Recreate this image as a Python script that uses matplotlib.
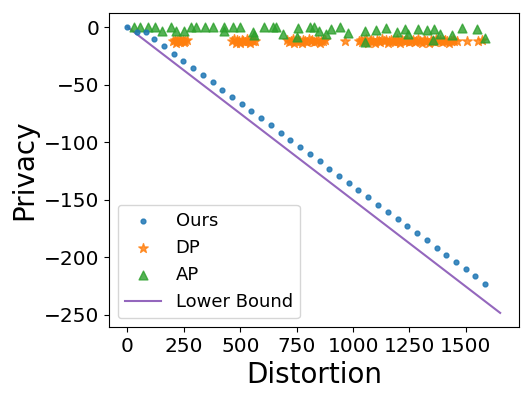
import matplotlib
matplotlib.use("Agg")
import matplotlib.pyplot as plt
from matplotlib.ticker import MultipleLocator

# Ours
ours_x = [0, 44, 80, 118, 161, 204, 247, 290, 334, 377, 420, 463, 506, 549,
          593, 636, 679, 722, 765, 808, 852, 895, 938, 981, 1024, 1067, 1111,
          1154, 1197, 1240, 1283, 1326, 1370, 1413, 1456, 1499, 1542, 1585]
ours_y = [0, -4.5, -4.0, -10.7, -16.8, -23.0, -29.3, -35.5, -41.8, -48.0,
          -54.3, -60.5, -66.8, -73.0, -79.3, -85.5, -91.8, -98.0, -104.3,
          -110.5, -116.8, -123.0, -129.3, -135.5, -141.8, -148.0, -154.3,
          -160.5, -166.8, -173.0, -179.3, -185.5, -191.8, -198.0, -204.3,
          -210.5, -216.8, -223.0]

# DP
dp_x = [203, 209, 215, 221, 227, 233, 239, 245, 251, 257, 263,
        465, 472, 479, 486, 493, 500, 507, 514, 521, 528, 535, 542, 549, 556, 564,
        708, 716, 724, 732, 740, 748, 756, 764, 772, 780, 788, 796, 804, 812,
        820, 828, 836, 844, 852, 860, 868, 875,
        962,
        1025, 1033, 1041, 1049, 1057, 1065, 1073, 1081, 1089, 1097, 1105, 1113,
        1121, 1129, 1137, 1145, 1153, 1161, 1169, 1177, 1185, 1193, 1201, 1209,
        1217, 1225, 1233, 1241, 1249, 1257, 1265, 1273, 1281, 1289, 1297, 1305,
        1313, 1321, 1329, 1337, 1345, 1353, 1361, 1369, 1377, 1385, 1393, 1401,
        1409, 1417, 1425, 1433, 1441, 1449, 1460,
        1504, 1556, 1571]
dp_y = [-12.5, -11.0, -13.5, -12.0, -10.5, -13.0, -12.0, -11.5, -13.0, -12.0, -11.0,
        -12.0, -10.5, -13.5, -11.5, -12.5, -14.0, -11.0, -12.5, -13.0, -10.5,
        -12.0, -13.5, -11.5, -12.0, -12.5,
        -11.5, -13.0, -12.0, -10.5, -13.5, -12.0, -11.0, -12.5, -14.0, -11.5,
        -12.0, -13.0, -10.5, -12.5, -11.5, -13.0, -12.0, -11.0, -13.5, -12.0,
        -12.5, -11.5,
        -12.0,
        -12.5, -11.0, -13.0, -12.0, -10.5, -13.5, -12.0, -11.5, -12.5, -14.0,
        -11.0, -12.0, -13.0, -10.5, -12.5, -11.5, -13.5, -12.0, -11.0, -12.5,
        -13.0, -10.5, -12.0, -13.5, -11.5, -12.0, -12.5, -11.0, -13.0, -12.0,
        -11.5, -13.0, -12.5, -10.5, -12.0, -13.5, -11.0, -12.5, -12.0, -14.0,
        -11.5, -12.0, -13.0, -10.5, -12.5, -11.5, -13.0, -12.0, -11.0, -12.5,
        -13.5, -12.0, -11.5, -12.5, -12.0,
        -12.0, -12.5, -11.5]

# AP
ap_x = [27, 56, 89, 123, 152, 192, 216, 251, 281, 305, 344, 379, 426, 430,
        467, 497, 555, 562, 606, 644, 659, 689, 751, 758, 810, 825, 847, 881,
        903, 940, 977, 1051, 1054, 1101, 1147, 1194, 1231, 1243, 1290, 1327,
        1354, 1360, 1386, 1438, 1482, 1551, 1586]
ap_y = [0, 0, 0, 0, -3, 0, -3, -3, 0, 0, 0, 0, 0, -3,
        0, 0, -4, -7, 0, 0, 0, -6, -9, -1, 0, 0, -3.5, -5.8,
        -1.5, 0, -5, -13, -3, -2.5, -0.5, -4.5, -1.5, -6.4, -1.5, -2.5,
        -11, -1.5, -5.8, -7.2, -0.5, -1.5, -9.3]

# Lower bound
lb_x = [0, 1652]
lb_y = [0, -248.5]

fig, ax = plt.subplots(figsize=(5.31, 3.99), dpi=100)
fig.subplots_adjust(left=0.205, right=0.977, top=0.968, bottom=0.18)

ax.scatter(ours_x, ours_y, s=12, color="C0", alpha=0.85, label="Ours", zorder=3)
ax.scatter(dp_x, dp_y, s=50, marker="*", color="C1", alpha=0.8, label="DP", zorder=2)
ax.scatter(ap_x, ap_y, s=40, marker="^", color="C2", alpha=0.8, label="AP", zorder=2)
ax.plot(lb_x, lb_y, color="C4", linewidth=1.5, label="Lower Bound", zorder=1)

ax.xaxis.set_major_locator(MultipleLocator(250))
ax.set_xlabel("Distortion", fontsize=20)
ax.set_ylabel("Privacy", fontsize=20)
ax.tick_params(labelsize=14.5)

ax.legend(loc="lower left", fontsize=13)

fig.savefig("out.png", dpi=100)
